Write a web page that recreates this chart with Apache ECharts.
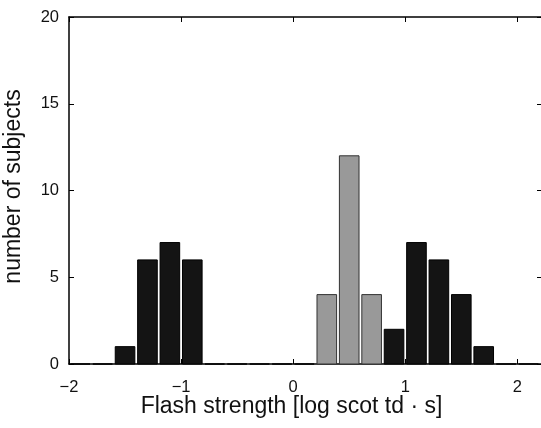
<!DOCTYPE html>
<html><head><meta charset="utf-8">
<script src="https://cdn.jsdelivr.net/npm/echarts@6/dist/echarts.min.js"></script>
<style>html,body{margin:0;padding:0;background:#fff}#c{width:541px;height:428px}</style>
</head><body><div id="c"></div>
<script>
const blackX = [-1.5, -1.3, -1.1, -0.9, 0.9, 1.1, 1.3, 1.5, 1.7];
const blackY = [1, 6, 7, 6, 2, 7, 6, 4, 1];
const grayX = [0.3, 0.5, 0.7];
const grayY = [4, 12, 4];
const emptyX = [-1.9, -1.7, -0.7, -0.5, -0.3, -0.1, 0.1, 1.9, 2.1];
const barW = 0.175;
const xTicks = [-2, -1, 0, 1, 2];
const yTicks = [0, 5, 10, 15, 20];

const font = 'Liberation Sans, Arial, Helvetica, sans-serif';
function fmt(v){ return String(v).replace('-', '\u2212'); }
function renderBar(fill, stroke){
  return function(params, api){
    const x = api.value(0), y = api.value(1);
    const p0 = api.coord([x, 0]);
    const p1 = api.coord([x, y]);
    const w = api.size([barW, 0])[0];
    return {type:'rect', shape:{x:p0[0]-w/2, y:p1[1], width:w, height:p0[1]-p1[1]},
      style:{fill:fill, stroke:stroke, lineWidth:1}};
  };
}
const chart = echarts.init(document.getElementById('c'), null, {renderer:'canvas'});
const axisLine = {show:true, onZero:false, lineStyle:{color:'#000', width:1.5}};
const tick = {show:true, inside:true, length:5, lineStyle:{color:'#000'}};
chart.setOption({
  animation:false,
  grid:{left:69, right:-1, top:17, bottom:64, show:false, containLabel:false, outerBoundsMode:'none'},
  xAxis:[{
    type:'value', min:-2, max:2.22, interval:1, position:'bottom',
    axisLine:axisLine, axisTick:tick, splitLine:{show:false},
    axisLabel:{color:'#111', fontSize:16.5, fontFamily:font, margin:15, showMaxLabel:false, formatter:fmt},
    name:'Flash strength [log scot td \u00b7 s]', nameLocation:'middle', nameGap:31, nameMoveOverlap:false,
    nameTextStyle:{color:'#111', fontSize:23, fontFamily:font, padding:[0,28,0,0]}
  },{
    type:'value', min:-2, max:2.22, interval:1, position:'top',
    axisLine:axisLine, axisTick:tick, splitLine:{show:false}, axisLabel:{show:false}
  }],
  yAxis:[{
    type:'value', min:0, max:20, interval:5, position:'left',
    axisLine:axisLine, axisTick:tick, splitLine:{show:false},
    axisLabel:{color:'#111', fontSize:16.5, fontFamily:font, margin:10},
    name:'number of subjects', nameLocation:'middle', nameGap:44, nameMoveOverlap:false,
    nameTextStyle:{color:'#111', fontSize:23, fontFamily:font, padding:[0,0,0,8]}
  },{
    type:'value', min:0, max:20, interval:5, position:'right',
    axisLine:axisLine, axisTick:tick, splitLine:{show:false}, axisLabel:{show:false}
  }],
  series:[
    {type:'custom', renderItem:renderBar('#141414', '#000'), data:blackX.map((x,i)=>[x, blackY[i]]), clip:false},
    {type:'custom', renderItem:renderBar('#999999', '#333'), data:grayX.map((x,i)=>[x, grayY[i]]), clip:false},
    {type:'custom', renderItem:renderBar('#141414', '#000'), data:emptyX.map(x=>[x, 0]), clip:false}
  ]
});
</script></body></html>
